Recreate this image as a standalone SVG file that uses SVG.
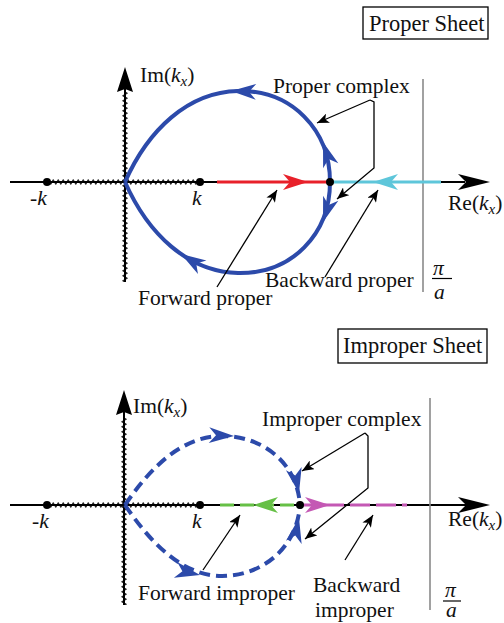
<svg xmlns="http://www.w3.org/2000/svg" width="504" height="623" viewBox="0 0 504 623">
<style>
.t{font-family:"Liberation Serif","Times New Roman",serif;font-size:21.5px;fill:#111}
.sh{font-family:"Liberation Serif","Times New Roman",serif;font-size:22.5px;fill:#111}
.i{font-style:italic}
.axis{stroke:#000;stroke-width:2;fill:none}
.blue{stroke:#2c4aaa;stroke-width:4;fill:none}
.dash{stroke-dasharray:11 6}
.ptr{stroke:#000;stroke-width:1.3;fill:none;marker-end:url(#pm)}
.gray{stroke:#8a8a8a;stroke-width:1.6}
</style>
<defs>
<marker id="pm" viewBox="0 0 12 10" refX="12" refY="5" markerWidth="12" markerHeight="10" markerUnits="userSpaceOnUse" orient="auto">
<path d="M0,0 L12,5 L0,10 L3,5 Z" fill="#000"/>
</marker>
<path id="ah" d="M0,0 L-25,-8 L-18,0 L-25,8 Z"/>
<path id="axh" d="M0,0 L-32,-8 L-24,0 L-32,8 Z"/>
<path id="axv" d="M0,0 L-25,-8 L-22,0 L-25,8 Z"/>
<pattern id="zig" patternUnits="userSpaceOnUse" width="5" height="6">
<path d="M0,3 L1.25,0.6 L3.75,5.4 L5,3" stroke="#000" stroke-width="1" fill="none"/>
</pattern>
</defs>

<g id="proper-sheet">
<rect x="363" y="7" width="125" height="32" fill="none" stroke="#000" stroke-width="1.3"/>
<text class="sh" x="369" y="31">Proper Sheet</text>
</g>

<g id="top-axes">
<line class="axis" x1="10" y1="182" x2="465" y2="182"/>
<use href="#axh" transform="translate(490,182)" fill="#000"/>
<line class="axis" x1="125" y1="85" x2="125" y2="282"/>
<use href="#axv" transform="translate(125,67) rotate(-90)" fill="#000"/>
<g transform="translate(47,179)"><rect width="153" height="6" fill="url(#zig)"/></g>
<g transform="translate(128,92) rotate(90)"><rect width="190" height="6" fill="url(#zig)"/></g>
<line class="gray" x1="423" y1="79" x2="423" y2="292"/>
</g>

<g id="top-real">
<line x1="217" y1="182" x2="330" y2="182" stroke="#e8202a" stroke-width="3"/>
<use href="#ah" transform="translate(308,182)" fill="#e8202a"/>
<line x1="330" y1="182" x2="441" y2="182" stroke="#5ec6da" stroke-width="3"/>
<use href="#ah" transform="translate(373,182) rotate(180)" fill="#5ec6da"/>
</g>

<g id="top-complex">
<path class="blue" d="M125,182 C148,130 188,92 238,91 C292,90 330,130 330,182"/>
<path class="blue" d="M125,182 C148,234 188,272 238,273 C292,274 330,234 330,182"/>
<use href="#ah" transform="translate(231,91) rotate(182)" fill="#2c4aaa"/>
<use href="#ah" transform="translate(323,142) rotate(252)" fill="#2c4aaa"/>
<use href="#ah" transform="translate(323,222) rotate(108)" fill="#2c4aaa"/>
<use href="#ah" transform="translate(181,254) rotate(212)" fill="#2c4aaa"/>
</g>

<g id="top-points">
<circle cx="47" cy="182" r="4"/>
<circle cx="200" cy="182" r="4"/>
<circle cx="330" cy="182" r="4"/>
</g>

<g id="top-labels">
<text class="t" x="140" y="82">Im(<tspan class="i">k</tspan><tspan class="i" font-size="15" dy="4">x</tspan><tspan dy="-4">)</tspan></text>
<text class="t" x="448" y="210">Re(<tspan class="i">k</tspan><tspan class="i" font-size="15" dy="4">x</tspan><tspan dy="-4">)</tspan></text>
<text class="t" x="30" y="205">-<tspan class="i">k</tspan></text>
<text class="t i" x="192" y="205">k</text>
<text class="t" x="273" y="93">Proper complex</text>
<text class="t" x="138" y="305">Forward proper</text>
<text class="t" x="265" y="287">Backward proper</text>
<text class="t i" x="433" y="275" font-size="24">π</text>
<line x1="432" y1="278.5" x2="452" y2="278.5" stroke="#000" stroke-width="1.2"/>
<text class="t i" x="434" y="299" font-size="24">a</text>
</g>

<g id="improper-sheet">
<rect x="338" y="329" width="149" height="34" fill="none" stroke="#000" stroke-width="1.3"/>
<text class="sh" x="343" y="353">Improper Sheet</text>
</g>

<g id="bottom-axes">
<line class="axis" x1="10" y1="505" x2="470" y2="505"/>
<use href="#axh" transform="translate(490,505)" fill="#000"/>
<line class="axis" x1="124" y1="408" x2="124" y2="605"/>
<use href="#axv" transform="translate(124,390) rotate(-90)" fill="#000"/>
<g transform="translate(47,502)"><rect width="153" height="6" fill="url(#zig)"/></g>
<g transform="translate(127,418) rotate(90)"><rect width="187" height="6" fill="url(#zig)"/></g>
<line class="gray" x1="430" y1="398" x2="430" y2="610"/>
</g>

<g id="bottom-real">
<line x1="220" y1="505" x2="300" y2="505" stroke="#66c046" stroke-width="3" stroke-dasharray="14 6"/>
<use href="#ah" transform="translate(253,505) rotate(180)" fill="#66c046"/>
<line x1="300" y1="505" x2="407" y2="505" stroke="#c458b4" stroke-width="3" stroke-dasharray="44 6 20 6 20 6"/>
<use href="#ah" transform="translate(330,505)" fill="#c458b4"/>
</g>

<g id="bottom-complex">
<path class="blue dash" d="M125,505 C150,468 182,436 222,436 C262,436 297,462 300,505"/>
<path class="blue dash" d="M125,505 C150,542 182,576 222,576 C262,576 297,548 300,505"/>
<use href="#ah" transform="translate(234,436) rotate(2)" fill="#2c4aaa"/>
<use href="#ah" transform="translate(299,493) rotate(78)" fill="#2c4aaa"/>
<use href="#ah" transform="translate(299,518) rotate(-78)" fill="#2c4aaa"/>
<use href="#ah" transform="translate(200,575) rotate(12)" fill="#2c4aaa"/>
</g>

<g id="bottom-points">
<circle cx="47" cy="505" r="4"/>
<circle cx="200" cy="505" r="4"/>
<circle cx="300" cy="505" r="4"/>
</g>

<g id="bottom-labels">
<text class="t" x="133" y="413">Im(<tspan class="i">k</tspan><tspan class="i" font-size="15" dy="4">x</tspan><tspan dy="-4">)</tspan></text>
<text class="t" x="448" y="526">Re(<tspan class="i">k</tspan><tspan class="i" font-size="15" dy="4">x</tspan><tspan dy="-4">)</tspan></text>
<text class="t" x="32" y="528">-<tspan class="i">k</tspan></text>
<text class="t i" x="192" y="528">k</text>
<text class="t" x="262" y="426">Improper complex</text>
<text class="t" x="138" y="600">Forward improper</text>
<text class="t" x="313" y="592">Backward</text>
<text class="t" x="315" y="617">improper</text>
<text class="t i" x="445" y="597" font-size="20">π</text>
<line x1="443" y1="601" x2="461" y2="601" stroke="#000" stroke-width="1.2"/>
<text class="t i" x="446" y="617" font-size="20">a</text>
</g>

<g id="connectors">
<path class="ptr" d="M370,100 L317,123"/>
<path class="ptr" d="M370,100 L374,102 L374,168 L337,199"/>
<path class="ptr" d="M217,287 L277,190"/>
<path class="ptr" d="M325,277 L378,190"/>
<path class="ptr" d="M365,433 L302,471"/>
<path class="ptr" d="M365,433 L368,436 L368,488 L305,539"/>
<path class="ptr" d="M203,570 L240,515"/>
<path class="ptr" d="M345,560 L373,515"/>
</g>
</svg>
